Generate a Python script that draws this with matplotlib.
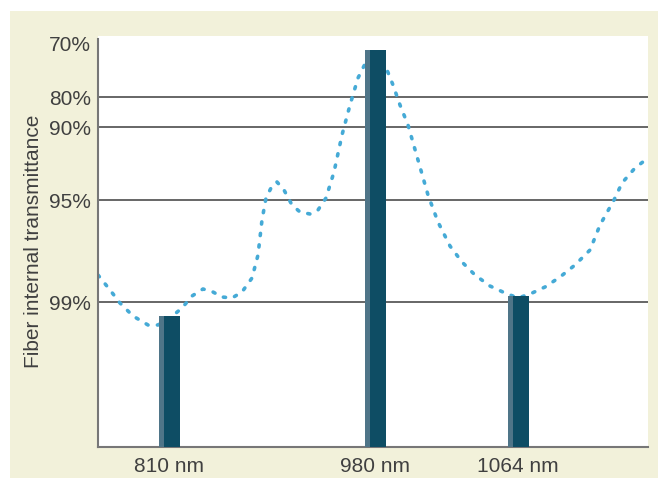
import matplotlib.pyplot as plt
from matplotlib.patches import Rectangle

plt.rcParams['font.family'] = ['Liberation Sans', 'DejaVu Sans']

# schematic chart: positions are in plot units (x 0..550, y 0..411)
bar_labels = ['810 nm', '980 nm', '1064 nm']
bar_pos = [71, 277, 420]
bar_heights = [131, 397, 151]

ytick_pos = [404, 350, 320, 247, 145]
ytick_labels = ['70%', '80%', '90%', '95%', '99%']
grid_pos = [350, 320, 247, 145]

# dotted transmittance curve
curve_x = [0, 12, 22, 35, 50, 60, 72, 84, 94, 105, 115, 124, 134, 144, 154, 160,
           164, 168, 174, 179, 186, 194, 202, 212, 220, 228, 236, 244, 252, 260,
           267, 277, 287, 295, 302, 310, 320, 330, 340, 352, 364, 377, 392, 407,
           420, 432, 447, 462, 477, 492, 502, 516, 524, 537, 550]
curve_y = [172, 157, 144, 131, 122, 122, 129, 139, 151, 158, 155, 150, 149, 155,
           169, 192, 227, 249, 261, 265, 257, 242, 235, 233, 237, 249, 275, 312,
           342, 369, 383, 389, 382, 362, 342, 322, 287, 252, 225, 201, 185, 172,
           161, 154, 149, 153, 160, 170, 182, 197, 222, 247, 264, 279, 289]

fig = plt.figure(figsize=(6.59, 4.88), dpi=100)
fig.patch.set_facecolor('white')
fig.patches.append(Rectangle((10 / 659, 10 / 488), 648 / 659, 467 / 488,
                             transform=fig.transFigure, facecolor='#f2f1da',
                             edgecolor='none', zorder=-10))

ax = fig.add_axes([98 / 659, 41 / 488, 550 / 659, 411 / 488])
ax.set_facecolor('white')
ax.set_xlim(0, 550)
ax.set_ylim(0, 411)

for g in grid_pos:
    ax.axhline(g, color='#5a5a5a', lw=1.3, zorder=1)

ax.plot(curve_x, curve_y, color='#45aad6', lw=2.6, ls=(0, (0.6, 2.6)),
        dash_capstyle='round', zorder=2)

ax.bar(bar_pos, bar_heights, width=21, color='#0e4d64', zorder=3)
ax.bar([p - 8 for p in bar_pos], bar_heights, width=5, color='#4f7588', zorder=3)

for s in ['top', 'right']:
    ax.spines[s].set_visible(False)
for s in ['left', 'bottom']:
    ax.spines[s].set_color('#777777')
    ax.spines[s].set_linewidth(1.5)
ax.spines['left'].set_bounds(0, 408)

ax.set_xticks(bar_pos)
ax.set_xticklabels(bar_labels, fontsize=15, color='#404040')
ax.set_yticks(ytick_pos)
ax.set_yticklabels(ytick_labels, fontsize=15, color='#404040')
ax.tick_params(length=0, pad=5)
ax.tick_params(axis='x', pad=7)
ax.set_ylabel('Fiber internal transmittance', fontsize=15, color='#404040', labelpad=4)

fig.savefig('out.png', dpi=100, facecolor=fig.get_facecolor())
